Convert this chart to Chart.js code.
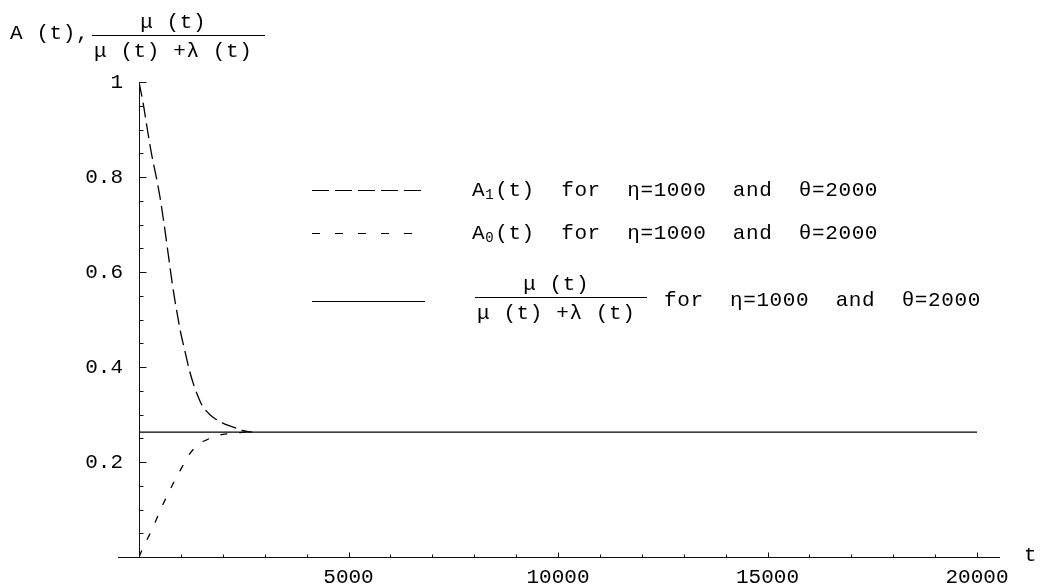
<!DOCTYPE html>
<html>
<head>
<meta charset="utf-8">
<script src="https://cdn.jsdelivr.net/npm/chart.js@4.4.1/dist/chart.umd.min.js"></script>
<style>
  html, body { margin: 0; padding: 0; background: #fff; }
  canvas { display: block; }
</style>
</head>
<body>
<canvas id="chart" width="1040" height="588"></canvas>
<script>
// Time grid (t) for the two availability curves
const timeValues = [0, 100, 200, 300, 400, 500, 600, 700, 800, 900, 1000, 1100, 1200, 1300,
  1400, 1500, 1600, 1700, 1800, 1900, 2000, 2100, 2200, 2300, 2400, 2500, 2600, 2700];
// A1(t): starts in the up state
const a1Values = [1.0, 0.955, 0.90, 0.848, 0.805, 0.758, 0.70, 0.636, 0.572, 0.518, 0.47, 0.432,
  0.394, 0.364, 0.34, 0.32, 0.308, 0.299, 0.292, 0.287, 0.282, 0.278, 0.275, 0.272, 0.268,
  0.266, 0.264, 0.263];
// A0(t): starts in the down state
const a0Values = [0.0, 0.02, 0.038, 0.056, 0.076, 0.097, 0.116, 0.134, 0.152, 0.169, 0.185, 0.201,
  0.216, 0.227, 0.236, 0.242, 0.246, 0.25, 0.253, 0.256, 0.258, 0.259, 0.261, 0.262, 0.262,
  0.263, 0.263, 0.263];
// Limiting ratio mu/(mu+lambda)
const ratioTimes = [0, 20000];
const ratioValues = [0.263, 0.263];

const xTickValues = [5000, 10000, 15000, 20000];
const yTickValues = [0.2, 0.4, 0.6, 0.8, 1];

const FONT = '"Liberation Mono", "Courier New", monospace';
const INK = '#000';
const AXIS = '#111';

const toPoints = (xs, ys) => xs.map((x, i) => ({ x: x, y: ys[i] }));

function fraction(ctx, num, den, left, barY, barW) {
  const nw = ctx.measureText(num).width;
  const dw = ctx.measureText(den).width;
  ctx.beginPath();
  ctx.moveTo(left, barY + 0.5);
  ctx.lineTo(left + barW, barY + 0.5);
  ctx.stroke();
  ctx.textAlign = 'left';
  ctx.fillText(num, left + 2 + (dw - nw) / 2, barY - 12.5);
  ctx.fillText(den, left + 2, barY + 16.5);
}

function legendText(ctx, x, y, sub, rest) {
  ctx.font = '21px ' + FONT;
  ctx.textAlign = 'left';
  ctx.fillText('A', x, y);
  let cx = x + ctx.measureText('A').width;
  ctx.font = '14px ' + FONT;
  ctx.fillText(sub, cx, y + 5);
  cx += ctx.measureText(sub).width + 1;
  ctx.font = '21px ' + FONT;
  ctx.fillText(rest, cx, y);
}

function sampleLine(ctx, y, length, dash) {
  ctx.save();
  ctx.lineWidth = 1.2;
  ctx.setLineDash(dash);
  ctx.beginPath();
  ctx.moveTo(312, y + 0.5);
  ctx.lineTo(312 + length, y + 0.5);
  ctx.stroke();
  ctx.restore();
}

const decorations = {
  id: 'decorations',
  afterDraw(chart) {
    const { ctx, scales: { x, y } } = chart;
    const x0 = Math.round(x.getPixelForValue(0)) + 0.5;
    const y0 = Math.round(y.getPixelForValue(0)) + 0.5;
    ctx.save();
    ctx.strokeStyle = AXIS;
    ctx.lineWidth = 1;

    // axis lines
    ctx.beginPath();
    ctx.moveTo(Math.round(x.getPixelForValue(-500)), y0);
    ctx.lineTo(Math.round(x.getPixelForValue(20550)), y0);
    ctx.moveTo(x0, y0);
    ctx.lineTo(x0, Math.round(y.getPixelForValue(1)) + 0.5);
    ctx.stroke();

    // inward tick marks
    ctx.beginPath();
    for (let k = 1; k <= 20; k++) {
      const px = Math.round(x.getPixelForValue(k * 1000)) + 0.5;
      const len = k % 5 === 0 ? 5 : 3;
      ctx.moveTo(px, y0);
      ctx.lineTo(px, y0 - len);
    }
    for (let k = 1; k <= 20; k++) {
      const py = Math.round(y.getPixelForValue(k / 20)) + 0.5;
      const len = k % 4 === 0 ? 7 : 4;
      ctx.moveTo(x0, py);
      ctx.lineTo(x0 + len, py);
    }
    ctx.stroke();

    // text
    ctx.fillStyle = INK;
    ctx.strokeStyle = INK;
    ctx.textBaseline = 'middle';
    ctx.font = '21px ' + FONT;
    ctx.letterSpacing = '0.6px';
    ctx.textAlign = 'left';
    ctx.fillText('t', 1024, 555);

    // vertical axis label
    ctx.fillText('A (t),', 10, 33);
    fraction(ctx, 'μ (t)', 'μ (t) +λ (t)', 92, 35, 173);

    // legend
    sampleLine(ctx, 190, 109, [17, 6]);
    legendText(ctx, 472, 190, '1', '(t)  for  η=1000  and  θ=2000');
    sampleLine(ctx, 233, 100, [8, 15]);
    legendText(ctx, 472, 233, '0', '(t)  for  η=1000  and  θ=2000');
    sampleLine(ctx, 301, 113, []);
    ctx.font = '21px ' + FONT;
    fraction(ctx, 'μ (t)', 'μ (t) +λ (t)', 475, 297, 172);
    ctx.textAlign = 'left';
    ctx.fillText('for  η=1000  and  θ=2000', 664, 300);
    ctx.restore();
  }
};

new Chart(document.getElementById('chart'), {
  type: 'line',
  data: {
    datasets: [
      {
        label: 'A1(t)',
        data: toPoints(timeValues, a1Values),
        borderColor: INK,
        borderWidth: 1.3,
        borderDash: [15, 6],
        pointRadius: 0,
        cubicInterpolationMode: 'monotone',
        fill: false
      },
      {
        label: 'A0(t)',
        data: toPoints(timeValues, a0Values),
        borderColor: INK,
        borderWidth: 1.3,
        borderDash: [7, 12],
        pointRadius: 0,
        cubicInterpolationMode: 'monotone',
        fill: false
      },
      {
        label: 'mu/(mu+lambda)',
        data: toPoints(ratioTimes, ratioValues),
        borderColor: INK,
        borderWidth: 1.3,
        pointRadius: 0,
        fill: false
      }
    ]
  },
  options: {
    responsive: false,
    animation: false,
    events: [],
    layout: { padding: { top: 82, right: 63, bottom: 0, left: 0 } },
    plugins: { legend: { display: false }, tooltip: { enabled: false } },
    scales: {
      x: {
        type: 'linear',
        min: 0,
        max: 20000,
        grid: { display: false, drawTicks: false },
        border: { display: false },
        afterBuildTicks(scale) { scale.ticks = xTickValues.map(v => ({ value: v })); },
        afterFit(scale) { scale.height = 31; },
        ticks: {
          padding: 8,
          maxRotation: 0,
          color: INK,
          font: { family: FONT, size: 21 },
          callback: v => String(v)
        }
      },
      y: {
        type: 'linear',
        min: 0,
        max: 1,
        grid: { display: false, drawTicks: false },
        border: { display: false },
        afterBuildTicks(scale) { scale.ticks = yTickValues.map(v => ({ value: v })); },
        afterFit(scale) { scale.width = 139; },
        ticks: {
          padding: 16,
          color: INK,
          font: { family: FONT, size: 21 },
          callback: v => (v === 1 ? '1' : v.toFixed(1))
        }
      }
    }
  },
  plugins: [decorations]
});
</script>
</body>
</html>
